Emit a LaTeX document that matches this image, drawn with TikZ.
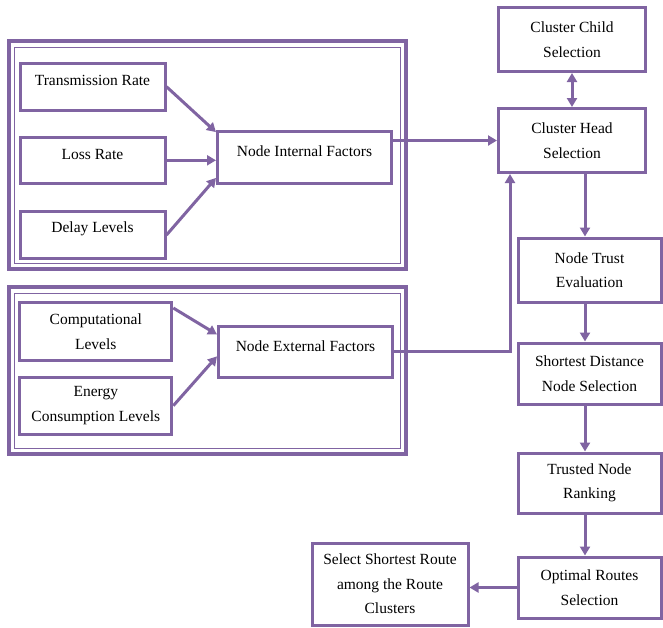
\documentclass[tikz,border=0pt]{standalone}
\usepackage{fontspec}
\setmainfont{Liberation Serif}
\usetikzlibrary{arrows.meta,calc}
\definecolor{purp}{RGB}{128,100,162}
\newcommand\uptxt[1]{\raisebox{6pt}[\height][\depth]{#1}}
\begin{document}
\begin{tikzpicture}[x=1pt,y=-1pt,
  box/.style={draw=purp, line width=3pt, fill=white, inner sep=0pt, align=center,
    font=\fontsize{15.5}{24.5}\selectfont},
  frameout/.style={draw=purp, line width=4pt},
  framein/.style={draw=purp, line width=1pt},
  conn/.style={draw=purp, line width=3pt, -{Triangle[length=9pt,width=10pt]}},
  dconn/.style={draw=purp, line width=3pt, {Triangle[length=9pt,width=10pt]}-{Triangle[length=9pt,width=10pt]}}
]
\useasboundingbox (0,0) rectangle (663,627);

% frames
\draw[frameout] (9,41) rectangle (406,269);
\draw[framein] (14,47) rectangle (400,263);
\draw[frameout] (9,287) rectangle (406,454);
\draw[framein] (14,293) rectangle (400,448);

% left boxes
\node[box, minimum width=145pt, minimum height=47pt] (tr) at (92.5,86.7) {\uptxt{Transmission Rate}};
\node[box, minimum width=145pt, minimum height=46pt] (lr) at (92.5,160.3) {\uptxt{Loss Rate}};
\node[box, minimum width=145pt, minimum height=47pt] (dl) at (92.5,235) {\uptxt{Delay Levels}};
\node[box, minimum width=174pt, minimum height=52pt] (nif) at (304.5,157.5) {\uptxt{Node Internal Factors}};

\node[box, minimum width=152pt, minimum height=58pt] (comp) at (95.8,331.7) {Computational\\Levels};
\node[box, minimum width=152pt, minimum height=57pt] (en) at (95.8,405.7) {Energy\\Consumption Levels};
\node[box, minimum width=174pt, minimum height=51pt] (nef) at (305.5,351.7) {\uptxt{Node External Factors}};

% right column
\node[box, minimum width=147pt, minimum height=64pt] (cc) at (572,39.5) {Cluster Child\\Selection};
\node[box, minimum width=147pt, minimum height=64pt] (ch) at (572,140.5) {Cluster Head\\Selection};
\node[box, minimum width=143pt, minimum height=64pt] (nt) at (589.5,270) {Node Trust\\Evaluation};
\node[box, minimum width=143pt, minimum height=61pt] (sd) at (589.5,373.5) {Shortest Distance\\Node Selection};
\node[box, minimum width=143pt, minimum height=60pt] (tn) at (589.5,483) {Trusted Node\\Ranking};
\node[box, minimum width=143pt, minimum height=61pt] (or) at (589.5,587.5) {Optimal Routes\\Selection};
\node[box, minimum width=156pt, minimum height=82pt] (ssr) at (390,584) {Select Shortest Route\\among the Route\\Clusters};

\coordinate (col) at (585,0);
\coordinate (chin) at ($(ch.south west)+(13,0)$);

% connectors
\draw[conn] (tr.east) -- (nif.164);
\draw[conn] (lr.east) -- (lr.east -| nif.west);
\draw[conn] (dl.east) -- (nif.193);
\draw[conn] (comp.17) -- (nef.169);
\draw[conn] (en.east) -- (nef.183);
\draw[conn] (ch.west -| nif.east) -- (ch.west);
\draw[conn] (nef.east) -| (chin);
\draw[dconn] (cc.south) -- (ch.north);
\draw[conn] (ch.south -| col) -- (nt.north -| col);
\draw[conn] (nt.south -| col) -- (sd.north -| col);
\draw[conn] (sd.south -| col) -- (tn.north -| col);
\draw[conn] (tn.south -| col) -- (or.north -| col);
\draw[conn] (or.west) -- (or.west -| ssr.east);
\end{tikzpicture}
\end{document}
